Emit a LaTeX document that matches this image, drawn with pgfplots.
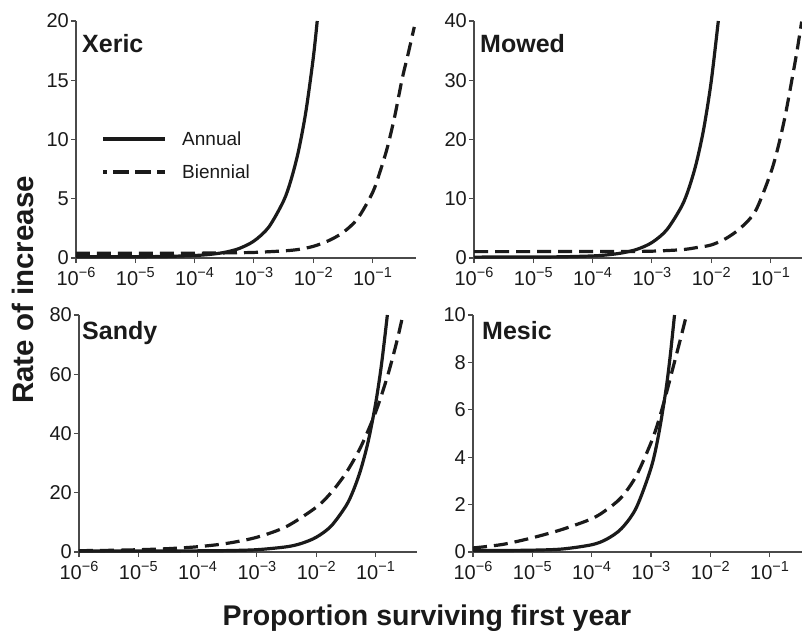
\documentclass[border=0pt]{standalone}
\usepackage{fontspec}
\setmainfont{Liberation Sans}
\usepackage{pgfplots}
\pgfplotsset{compat=1.18}
\newcommand{\tp}[1]{10\raisebox{0.42em}{\fontsize{14.5}{14.5}\selectfont −#1}}
\definecolor{ink}{HTML}{1A1A1A}
\definecolor{axgray}{HTML}{4A4A4A}
\tikzset{
  rkann/.style={draw=ink, line width=3.2pt, smooth, tension=0.5, line join=round},
  rkbie/.style={draw=ink, line width=3.2pt, dash pattern=on 14pt off 7pt, smooth, tension=0.5, line join=round},
}
\begin{document}
\begin{tikzpicture}
% ---------- Xeric ----------
\begin{axis}[at={(76pt,372pt)}, anchor=south west, scale only axis, width=340pt, height=237pt,
  xmode=log, xmin=1e-6, xmax=0.542, ymin=0, ymax=20,
  axis x line*=bottom, axis y line*=left,
  axis line style={line width=1.2pt, color=axgray},
  tick align=outside, major tick length=5pt,
  tick style={line width=1.2pt, color=axgray},
  xminorticks=false,
  xtick={1e-6,1e-5,1e-4,1e-3,1e-2,1e-1},
  xticklabels={\tp6,\tp5,\tp4,\tp3,\tp2,\tp1},
  tick label style={font=\fontsize{20}{22}\selectfont, text=ink, inner sep=2pt},
  xticklabel style={yshift=-2pt},
  ytick={0,5,10,15,20}, yticklabels={0,5,10,15,20}, clip=false]
\addplot[rkann] coordinates {(1e-6,0.1) (1e-5,0.11) (3.162e-5,0.13) (1e-4,0.21) (1.778e-4,0.30) (3.162e-4,0.47) (5.623e-4,0.80) (1e-3,1.43) (1.778e-3,2.60) (3.162e-3,4.81) (4.217e-3,6.57) (5.623e-3,8.98) (7.499e-3,12.29) (1e-2,16.82) (1.17e-2,20)};
\addplot[rkbie] coordinates {(1e-6,0.40) (1e-5,0.40) (1e-4,0.41) (3.162e-4,0.43) (1e-3,0.47) (3.162e-3,0.6) (5.623e-3,0.72) (1e-2,0.98) (1.778e-2,1.44) (3.162e-2,2.14) (5.623e-2,3.33) (0.1,5.5) (0.1334,7.25) (0.1778,9.31) (0.2371,11.95) (0.3162,15.1) (0.3981,17.2) (0.507,19.5)};
\end{axis}
% ---------- Mowed ----------
\begin{axis}[at={(474pt,372pt)}, anchor=south west, scale only axis, width=328pt, height=237pt,
  xmode=log, xmin=1e-6, xmax=0.340, ymin=0, ymax=40,
  axis x line*=bottom, axis y line*=left,
  axis line style={line width=1.2pt, color=axgray},
  tick align=outside, major tick length=5pt,
  tick style={line width=1.2pt, color=axgray},
  xminorticks=false,
  xtick={1e-6,1e-5,1e-4,1e-3,1e-2,1e-1},
  xticklabels={\tp6,\tp5,\tp4,\tp3,\tp2,\tp1},
  tick label style={font=\fontsize{20}{22}\selectfont, text=ink, inner sep=2pt},
  xticklabel style={yshift=-2pt},
  ytick={0,10,20,30,40}, yticklabels={0,10,20,30,40}, clip=false]
\addplot[rkann] coordinates {(1e-6,0.15) (1e-5,0.17) (3.162e-5,0.21) (1e-4,0.35) (1.778e-4,0.53) (3.162e-4,0.86) (5.623e-4,1.47) (1e-3,2.61) (1.778e-3,4.74) (3.162e-3,8.69) (4.217e-3,11.8) (5.623e-3,16.05) (7.499e-3,21.85) (1e-2,29.77) (1.318e-2,40)};
\addplot[rkbie] coordinates {(1e-6,1.08) (1e-5,1.08) (1e-4,1.09) (3.162e-4,1.1) (1e-3,1.15) (3.162e-3,1.4) (5.623e-3,1.75) (1e-2,2.2) (1.778e-2,3.3) (3.162e-2,5.1) (5.623e-2,8.0) (0.1,14.25) (0.1334,18.6) (0.1778,24.1) (0.2427,31.4) (0.2818,35.1) (0.3357,39.9)};
\end{axis}
% ---------- Sandy ----------
\begin{axis}[at={(79pt,78pt)}, anchor=south west, scale only axis, width=338pt, height=237pt,
  xmode=log, xmin=1e-6, xmax=0.501, ymin=0, ymax=80,
  axis x line*=bottom, axis y line*=left,
  axis line style={line width=1.2pt, color=axgray},
  tick align=outside, major tick length=5pt,
  tick style={line width=1.2pt, color=axgray},
  xminorticks=false,
  xtick={1e-6,1e-5,1e-4,1e-3,1e-2,1e-1},
  xticklabels={\tp6,\tp5,\tp4,\tp3,\tp2,\tp1},
  tick label style={font=\fontsize{20}{22}\selectfont, text=ink, inner sep=2pt},
  xticklabel style={yshift=-2pt},
  ytick={0,20,40,60,80}, yticklabels={0,20,40,60,80}, clip=false]
\addplot[rkann] coordinates {(1e-6,0.35) (1e-5,0.35) (1e-4,0.39) (3.162e-4,0.48) (1e-3,0.78) (3.162e-3,1.76) (5.623e-3,2.9) (1e-2,4.97) (1.778e-2,8.71) (3.162e-2,15.48) (4.217e-2,20.7) (5.623e-2,27.73) (7.499e-2,37.17) (0.1,49.87) (0.1259,63.13) (0.1585,80)};
\addplot[rkbie] coordinates {(1e-6,0.45) (3.162e-6,0.56) (1e-5,0.77) (3.162e-5,1.13) (1e-4,1.78) (3.162e-4,2.93) (1e-3,4.98) (3.162e-3,8.62) (1e-2,15.1) (1.778e-2,20.0) (3.162e-2,26.6) (5.623e-2,35.4) (0.1,47.1) (0.1585,59.2) (0.2239,70.3) (0.2754,78.0) (0.2897,80)};
\end{axis}
% ---------- Mesic ----------
\begin{axis}[at={(473pt,78pt)}, anchor=south west, scale only axis, width=329pt, height=237pt,
  xmode=log, xmin=1e-6, xmax=0.353, ymin=0, ymax=10,
  axis x line*=bottom, axis y line*=left,
  axis line style={line width=1.2pt, color=axgray},
  tick align=outside, major tick length=5pt,
  tick style={line width=1.2pt, color=axgray},
  xminorticks=false,
  xtick={1e-6,1e-5,1e-4,1e-3,1e-2,1e-1},
  xticklabels={\tp6,\tp5,\tp4,\tp3,\tp2,\tp1},
  tick label style={font=\fontsize{20}{22}\selectfont, text=ink, inner sep=2pt},
  xticklabel style={yshift=-2pt},
  ytick={0,2,4,6,8,10}, yticklabels={0,2,4,6,8,10}, clip=false]
\addplot[rkann] coordinates {(1e-6,0.06) (3.162e-6,0.065) (1e-5,0.077) (3.162e-5,0.125) (1e-4,0.305) (1.778e-4,0.536) (3.162e-4,0.98) (5.623e-4,1.85) (1e-3,3.53) (1.334e-3,4.89) (1.778e-3,6.78) (2.113e-3,8.26) (2.5e-3,10)};
\addplot[rkbie] coordinates {(1e-6,0.17) (3.162e-6,0.32) (1e-5,0.6) (3.162e-5,0.95) (1e-4,1.4) (1.778e-4,1.78) (3.162e-4,2.3) (5.623e-4,3.2) (1e-3,4.6) (1.334e-3,5.5) (1.778e-3,6.6) (2.371e-3,7.8) (3.162e-3,9.0) (3.981e-3,10)};
\end{axis}
% ---------- legend ----------
\draw[draw=ink, line width=3.2pt] (103pt,491pt) -- (165pt,491pt);
\draw[draw=ink, line width=3.2pt, dash pattern=on 16pt off 6pt, dash phase=12pt] (103pt,458pt) -- (165pt,458pt);
\node[anchor=base west, font=\fontsize{19}{21}\selectfont, text=ink, inner sep=0pt] at (182pt,484.5pt) {Annual};
\node[anchor=base west, font=\fontsize{19}{21}\selectfont, text=ink, inner sep=0pt] at (182pt,451.5pt) {Biennial};
% ---------- titles and labels ----------
\node[anchor=base west, font=\fontsize{25}{25}\selectfont\bfseries, text=ink, inner sep=0pt] at (82pt,577.3pt) {Xeric};
\node[anchor=base west, font=\fontsize{25}{25}\selectfont\bfseries, text=ink, inner sep=0pt] at (480pt,577.7pt) {Mowed};
\node[anchor=base west, font=\fontsize{25}{25}\selectfont\bfseries, text=ink, inner sep=0pt] at (82pt,290.7pt) {Sandy};
\node[anchor=base west, font=\fontsize{25}{25}\selectfont\bfseries, text=ink, inner sep=0pt] at (482pt,290.7pt) {Mesic};
\node[rotate=90, anchor=base, font=\fontsize{29.5}{31}\selectfont\bfseries, text=ink, inner sep=0pt] at (33pt,340pt) {Rate of increase};
\node[anchor=base, font=\fontsize{28.5}{30}\selectfont\bfseries, text=ink, inner sep=0pt] at (427pt,5pt) {Proportion surviving first year};
\pgfresetboundingbox
\useasboundingbox (0pt,0pt) rectangle (802pt,630pt);
\end{tikzpicture}
\end{document}
